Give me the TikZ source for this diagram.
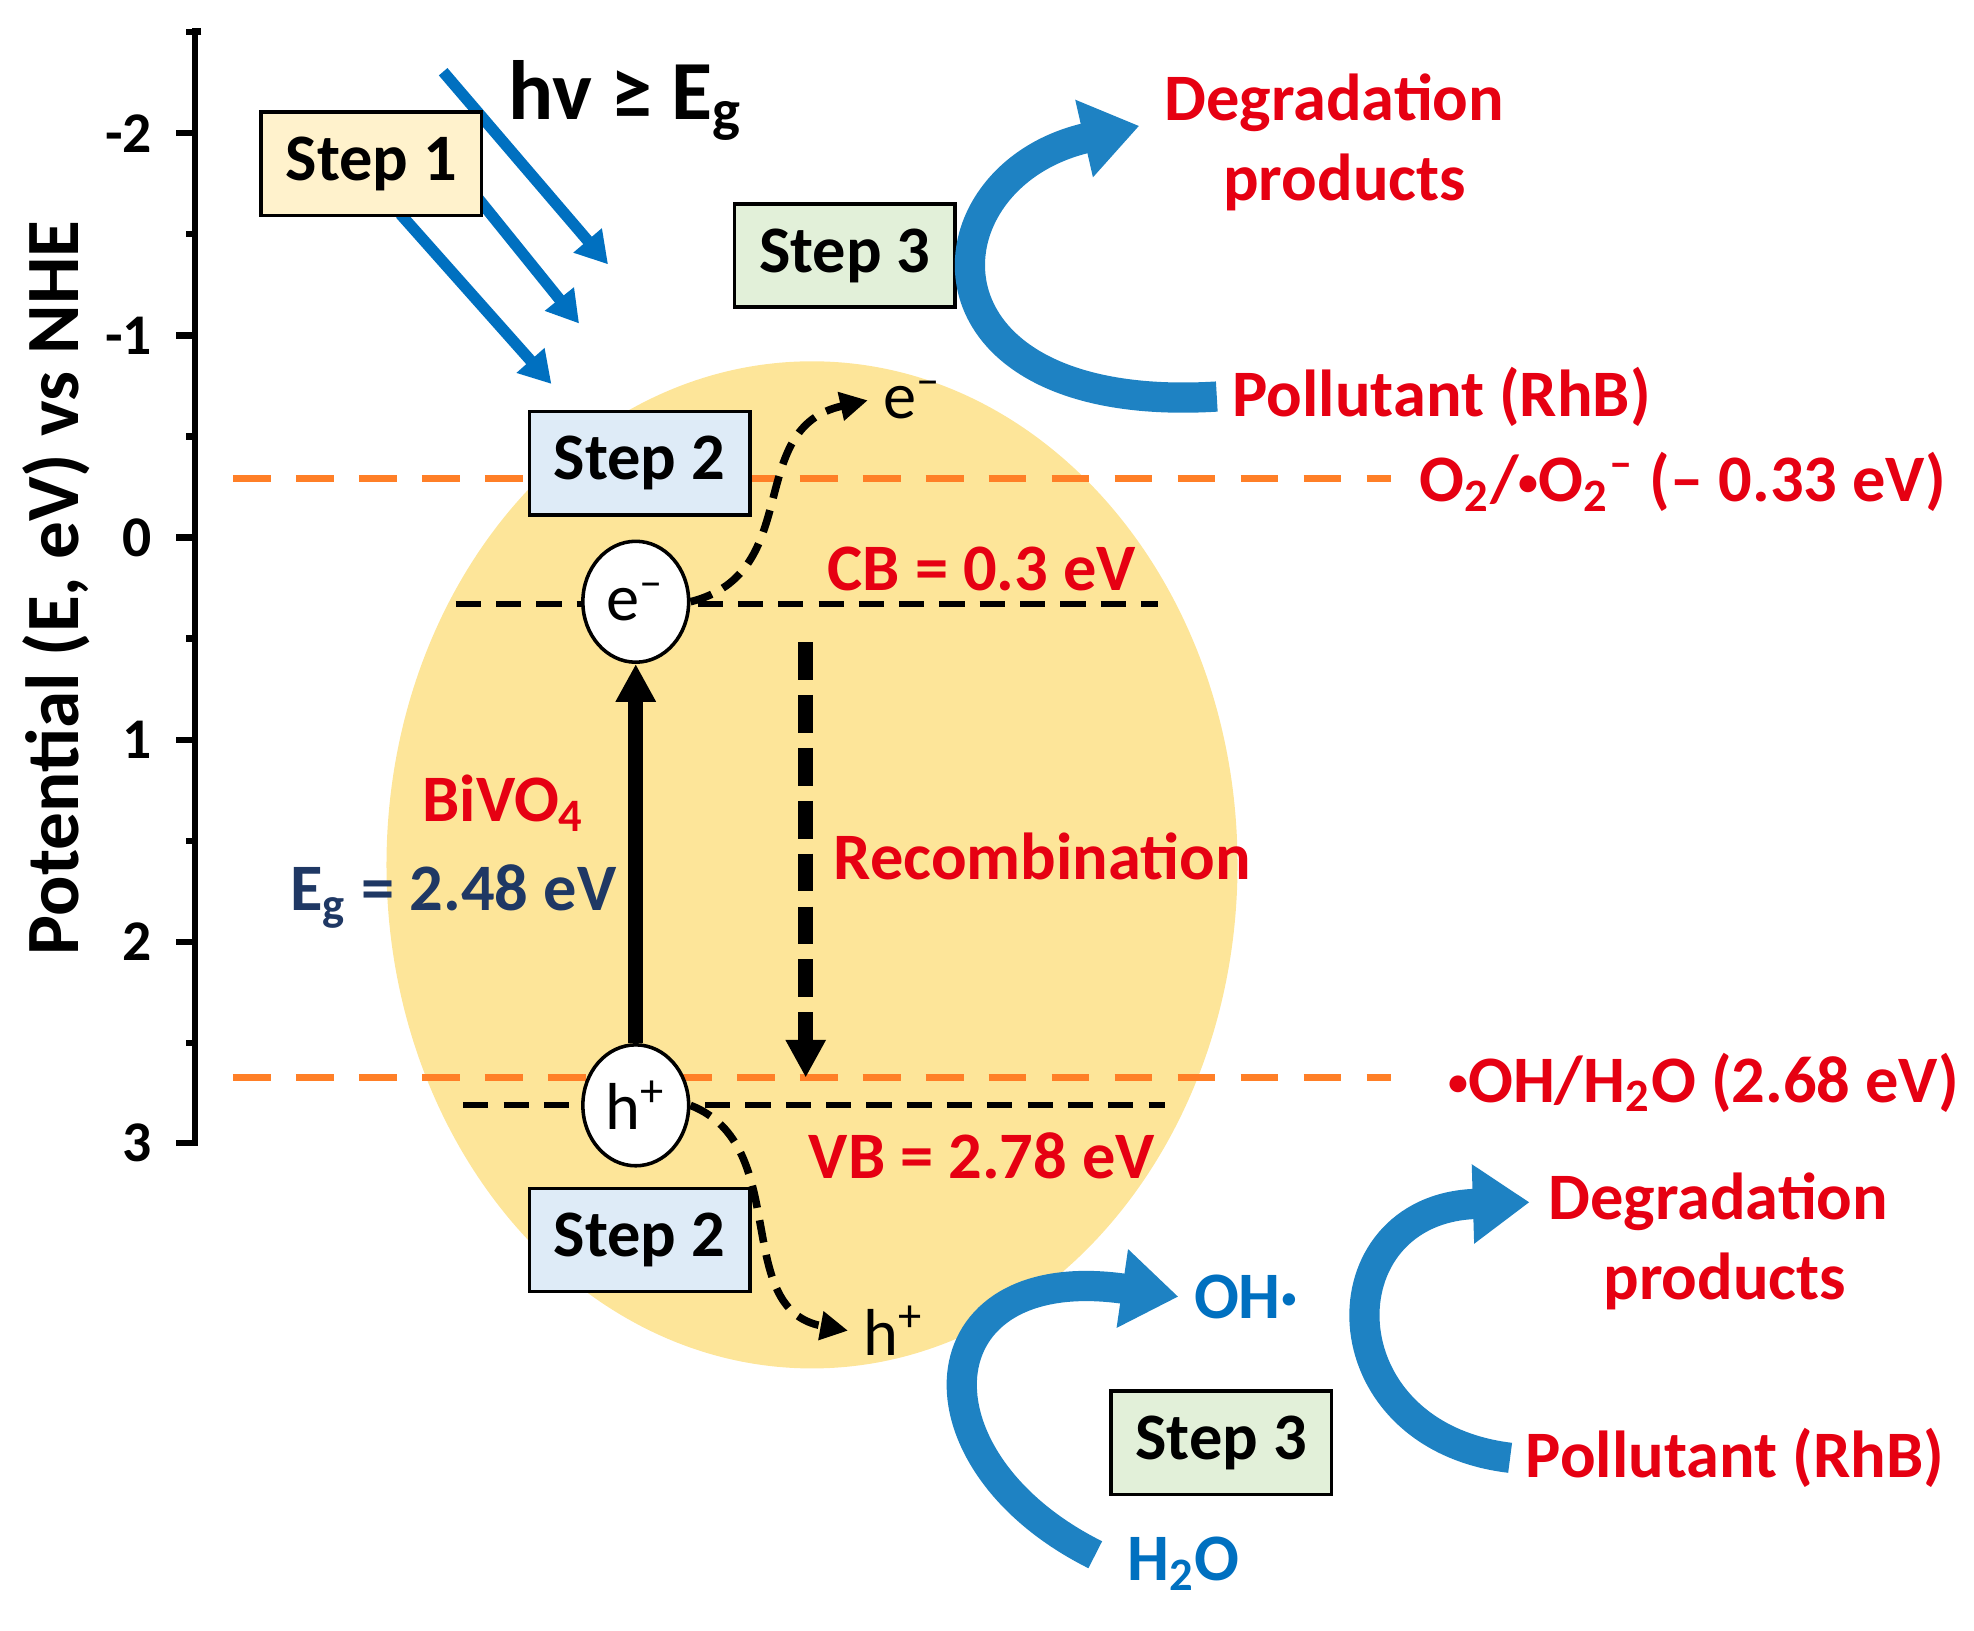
\documentclass[tikz,border=0pt]{standalone}
\usepackage{fontspec}
\setmainfont{Carlito}
\usetikzlibrary{arrows.meta, shapes.geometric}
\definecolor{redtxt}{RGB}{230,0,18}
\definecolor{navy}{RGB}{31,56,100}
\definecolor{blueA}{RGB}{0,112,192}
\definecolor{blueB}{RGB}{30,130,195}
\definecolor{orangeD}{RGB}{255,127,39}
\definecolor{bodyY}{RGB}{253,229,153}
\definecolor{stepY}{RGB}{255,242,204}
\definecolor{stepB}{RGB}{222,235,247}
\definecolor{stepG}{RGB}{226,240,217}
\newcommand{\rad}{\raisebox{0.2ex}{\scalebox{0.6}{•}}}
\tikzset{
  txt/.style={font=\fontsize{15}{17}\selectfont\bfseries},
  redlbl/.style={txt, text=redtxt},
  stepbox/.style={draw, thick, txt, minimum width=1.75cm, minimum height=0.82cm},
  carrier/.style={draw, thick, fill=white, ellipse, minimum width=0.84cm, minimum height=0.96cm, inner sep=0pt, font=\fontsize{15}{17}\selectfont},
  bigarrow/.style={blueB, line width=0.24cm, -{Triangle[length=0.45cm, width=0.6cm]}},
  lightray/.style={blueA, line width=0.09cm, -{Triangle[length=0.25cm, width=0.28cm]}},
  hop/.style={line width=0.06cm, dash pattern=on 0.18cm off 0.1cm, -{Triangle[length=0.22cm, width=0.22cm]}},
}
\begin{document}
\begin{tikzpicture}[x=0.01cm, y=-0.01cm]
    \useasboundingbox (0,0) rectangle (1568,1295);
    % semiconductor body
    \fill[bodyY] (645,687) ellipse [x radius=338, y radius=400];
    % axis
    \draw[line width=0.05cm] (160,25) -- (155,25) -- (155,908) -- (140,908);
    \foreach \e [evaluate=\e as \yy using 427+160.6*\e] in {-2,-1,0,1,2} {
        \draw[line width=0.05cm] (155,\yy) -- (140,\yy);
        \node[anchor=east, font=\fontsize{13}{15}\selectfont\bfseries] (t\e) at (133,\yy) {\e};
    }
    \node[anchor=east, font=\fontsize{13}{15}\selectfont\bfseries] (t3) at (133,908) {3};
    \foreach \e [evaluate=\e as \yy using 427+160.6*\e] in {-2.5,-1.5,-0.5,0.5,1.5,2.5}
        \draw[line width=0.05cm] (155,\yy) -- (148,\yy);
    \node[rotate=90, font=\fontsize{17}{19}\selectfont\bfseries] (ytitle) at (45,467) {Potential (E, eV) vs NHE};
    % redox levels
    \coordinate (o2l) at (185,380); \coordinate (o2r) at (1105,380);
    \coordinate (ohl) at (185,856); \coordinate (ohr) at (1105,856);
    \draw[orangeD, line width=0.05cm, dash pattern=on 0.3cm off 0.2cm] (o2l) -- (o2r);
    \draw[orangeD, line width=0.05cm, dash pattern=on 0.3cm off 0.2cm] (ohl) -- (ohr);
    \node[redlbl, anchor=east] (o2) at (1558,383) {O\textsubscript{2}/\rad O\textsubscript{2}\textsuperscript{–} (– 0.33 eV)};
    \node[redlbl, anchor=west] (oh) at (1138,860) {\rad OH/H\textsubscript{2}O (2.68 eV)};
    % bands
    \coordinate (cbl) at (362,480); \coordinate (cbr) at (920,480);
    \coordinate (vbl) at (368,878); \coordinate (vbr) at (925,878);
    \draw[line width=0.05cm, dash pattern=on 0.2cm off 0.12cm] (cbl) -- (cbr);
    \draw[line width=0.05cm, dash pattern=on 0.2cm off 0.12cm] (vbl) -- (vbr);
    \node[carrier] (el) at (505,478) {e\textsuperscript{–}};
    \node[carrier] (ho) at (505,878) {h\textsuperscript{+}};
    \draw[line width=0.12cm, -{Triangle[length=0.3cm, width=0.3cm]}] (ho) -- (el);
    \coordinate (rtop) at (640,510); \coordinate (rbot) at (640,856);
    \draw[line width=0.12cm, dash pattern=on 0.3cm off 0.12cm, -{Triangle[length=0.3cm, width=0.3cm]}] (rtop) -- (rbot);
    \node[redlbl, anchor=west] (recomb) at (650,680) {Recombination};
    \node[redlbl] (cb) at (780,452) {CB = 0.3 eV};
    \node[redlbl] (vb) at (780,918) {VB = 2.78 eV};
    \node[redlbl] (bivo) at (400,638) {BiVO\textsubscript{4}};
    \node[txt, text=navy] (eg) at (360,712) {E\textsubscript{g} = 2.48 eV};
    % migrating carriers
    \node[font=\fontsize{15}{17}\selectfont] (efree) at (725,318) {e\textsuperscript{–}};
    \node[font=\fontsize{15}{17}\selectfont] (hfree) at (710,1057) {h\textsuperscript{+}};
    \draw[hop] (el.east) .. controls (640,455) and (590,340) .. (efree.west);
    \draw[hop] (ho.east) .. controls (630,910) and (580,1040) .. (hfree.west);
    % light
    \node[font=\fontsize{19}{21}\selectfont\bfseries] (hv) at (497,80) {hv ≥ E\textsubscript{g}};
    \coordinate (l1) at (352,57); \coordinate (l1e) at (483,210);
    \coordinate (l2) at (372,148); \coordinate (l2e) at (460,257);
    \coordinate (l3) at (318,170); \coordinate (l3e) at (438,305);
    \draw[lightray] (l1) -- (l1e);
    \draw[lightray] (l2) -- (l2e);
    \draw[lightray] (l3) -- (l3e);
    % steps
    \node[stepbox, fill=stepY] (s1) at (295,130) {Step 1};
    \node[stepbox, fill=stepB] (s2a) at (508,368) {Step 2};
    \node[stepbox, fill=stepB] (s2b) at (508,985) {Step 2};
    \node[stepbox, fill=stepG] (s3a) at (671,203) {Step 3};
    \node[stepbox, fill=stepG] (s3b) at (970,1146) {Step 3};
    % oxidation paths
    \node[redlbl] (deg1) at (1060,82) {Degradation};
    \node[redlbl] (prod1) at (1068,145) {products};
    \node[redlbl] (pol1) at (1145,315) {Pollutant (RhB)};
    \draw[bigarrow] (pol1.west) .. controls (720,330) and (730,140) .. (905,100);
    \node[txt, text=blueA] (ohrad) at (990,1030) {OH·};
    \node[txt, text=blueA] (water) at (940,1242) {H\textsubscript{2}O};
    \draw[bigarrow] (870,1235) .. controls (720,1160) and (730,1000) .. (ohrad.west);
    \node[redlbl] (deg2) at (1365,955) {Degradation};
    \node[redlbl] (prod2) at (1370,1018) {products};
    \node[redlbl] (pol2) at (1378,1158) {Pollutant (RhB)};
    \draw[bigarrow] (pol2.west) .. controls (1050,1140) and (1050,960) .. (1215,955);
\end{tikzpicture}
\end{document}
